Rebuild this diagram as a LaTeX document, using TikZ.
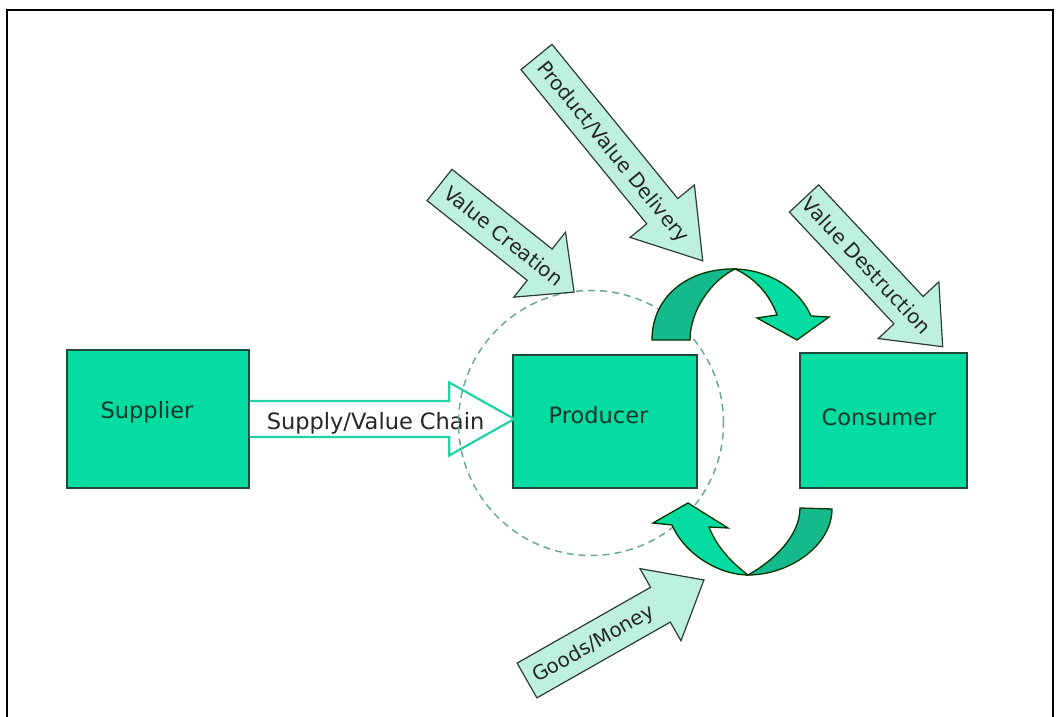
\documentclass[tikz,border=0pt]{standalone}
\usepackage{fontspec}
\setmainfont{DejaVu Sans}
\usetikzlibrary{calc}

\definecolor{boxfill}{HTML}{05DCA2}
\definecolor{boxline}{HTML}{1E4A3C}
\definecolor{ribdark}{HTML}{14B98C}
\definecolor{riblight}{HTML}{05DCA2}
\definecolor{hintfill}{HTML}{BDF0DF}
\definecolor{hintline}{HTML}{2B3B36}
\definecolor{supplyline}{HTML}{22D2A2}
\definecolor{dashcol}{HTML}{6AA898}
\definecolor{labelcol}{HTML}{10352A}

% block arrow with a label along its shaft:
% #1 name, #2 tail centre, #3 angle, #4 length, #5 head length, #6 label position, #7 label
\newcommand{\flowarrow}[7]{%
  \begin{scope}[shift={#2}, rotate=#3]
    \draw[hint] (0,-20) -- ({#4-#5},-20) -- ({#4-#5},-41.5) -- (#4,0)
      -- ({#4-#5},41.5) -- ({#4-#5},20) -- (0,20) -- cycle;
    \node[hinttext, rotate=#3] (#1) at (#6,0) {#7};
  \end{scope}}

\begin{document}
\begin{tikzpicture}[x=1pt, y=1pt,
  box/.style={draw=boxline, fill=boxfill, line width=1.5pt, inner sep=0pt},
  boxtext/.style={text=labelcol, inner sep=0pt, font=\fontsize{22.5}{27}\selectfont,
    text height=16.4pt, text depth=0pt},
  hint/.style={draw=hintline, fill=hintfill, line width=1.2pt, line join=miter},
  hinttext/.style={text=black!85, inner sep=0pt, font=\fontsize{20}{24}\selectfont,
    text height=14.6pt, text depth=0pt},
  ribbon/.style={draw=black!80!green, line width=1.3pt, line join=miter}]

\useasboundingbox (0,0) rectangle (1061,717);

% outer frame
\draw[line width=2pt] (7,-5) -- (7,707) -- (1053,707) -- (1053,-5);

% the three parties
\node[box, minimum width=182, minimum height=138] (sup)  at (158,298)   {};
\node[box, minimum width=184, minimum height=133] (prod) at (605,295.5) {};
\node[box, minimum width=167, minimum height=135] (cons) at (883.5,296.5) {};

% supply / value chain arrow
\coordinate (tip) at ($(prod.west |- sup.east)+(2,0)$);
\path[fill=white, draw=supplyline, line width=2.2pt, line join=miter]
  ($(sup.east)+(0,18)$) -- ($(tip)+(-65,18)$) -- ($(tip)+(-65,36.5)$) -- (tip)
  -- ($(tip)+(-65,-36.5)$) -- ($(tip)+(-65,-18)$) -- ($(sup.east)+(0,-18)$);
\node[boxtext, text=black!85] (chain) at (375.5,295.7) {Supply/Value Chain};

% producer's sphere
\node[circle, draw=dashcol, line width=1.5pt, dash pattern=on 7pt off 5pt,
  minimum size=265, inner sep=0pt] (zone) at (591,294) {};

% box labels
\node[boxtext] (supt)  at (147,307)   {Supplier};
\node[boxtext] (prodt) at (598.5,301.7) {Producer};
\node[boxtext] (const) at (879,299.7) {Consumer};

% upper turning arrow: producer to consumer
\path[ribbon, fill=ribdark] (652,377) .. controls (652,422) and (690,449) .. (735,448)
  .. controls (712,437) and (690,407) .. (690,377) -- cycle;
\path[ribbon, fill=riblight] (735,448) .. controls (770,447) and (800,427) .. (811,401)
  -- (829,400) -- (797,377) -- (757,399) -- (777,402)
  .. controls (770,422) and (755,439) .. (735,448) -- cycle;

% lower turning arrow: consumer to producer
\path[ribbon, fill=ribdark] (832,208) .. controls (832,172) and (790,142) .. (748,142)
  .. controls (775,157) and (800,182) .. (800,209) -- cycle;
\path[ribbon, fill=riblight] (748,142) .. controls (720,142) and (685,162) .. (672,192)
  -- (653,194) -- (688,214) -- (728,189) -- (709,190)
  .. controls (718,167) and (735,152) .. (748,142) -- cycle;

% labelled flows
\flowarrow{vcre}{(439.5,532)}{-38.5}{172}{44}{82}{Value Creation}
\flowarrow{pvd}{(536.5,660)}{-50.8}{263}{64}{122}{Product/Value Delivery}
\flowarrow{vdes}{(804,518.5)}{-46.9}{203}{50}{92}{Value Destruction}
\flowarrow{gm}{(527,36.5)}{29.6}{203.5}{50}{76}{Goods/Money}

\end{tikzpicture}
\end{document}
